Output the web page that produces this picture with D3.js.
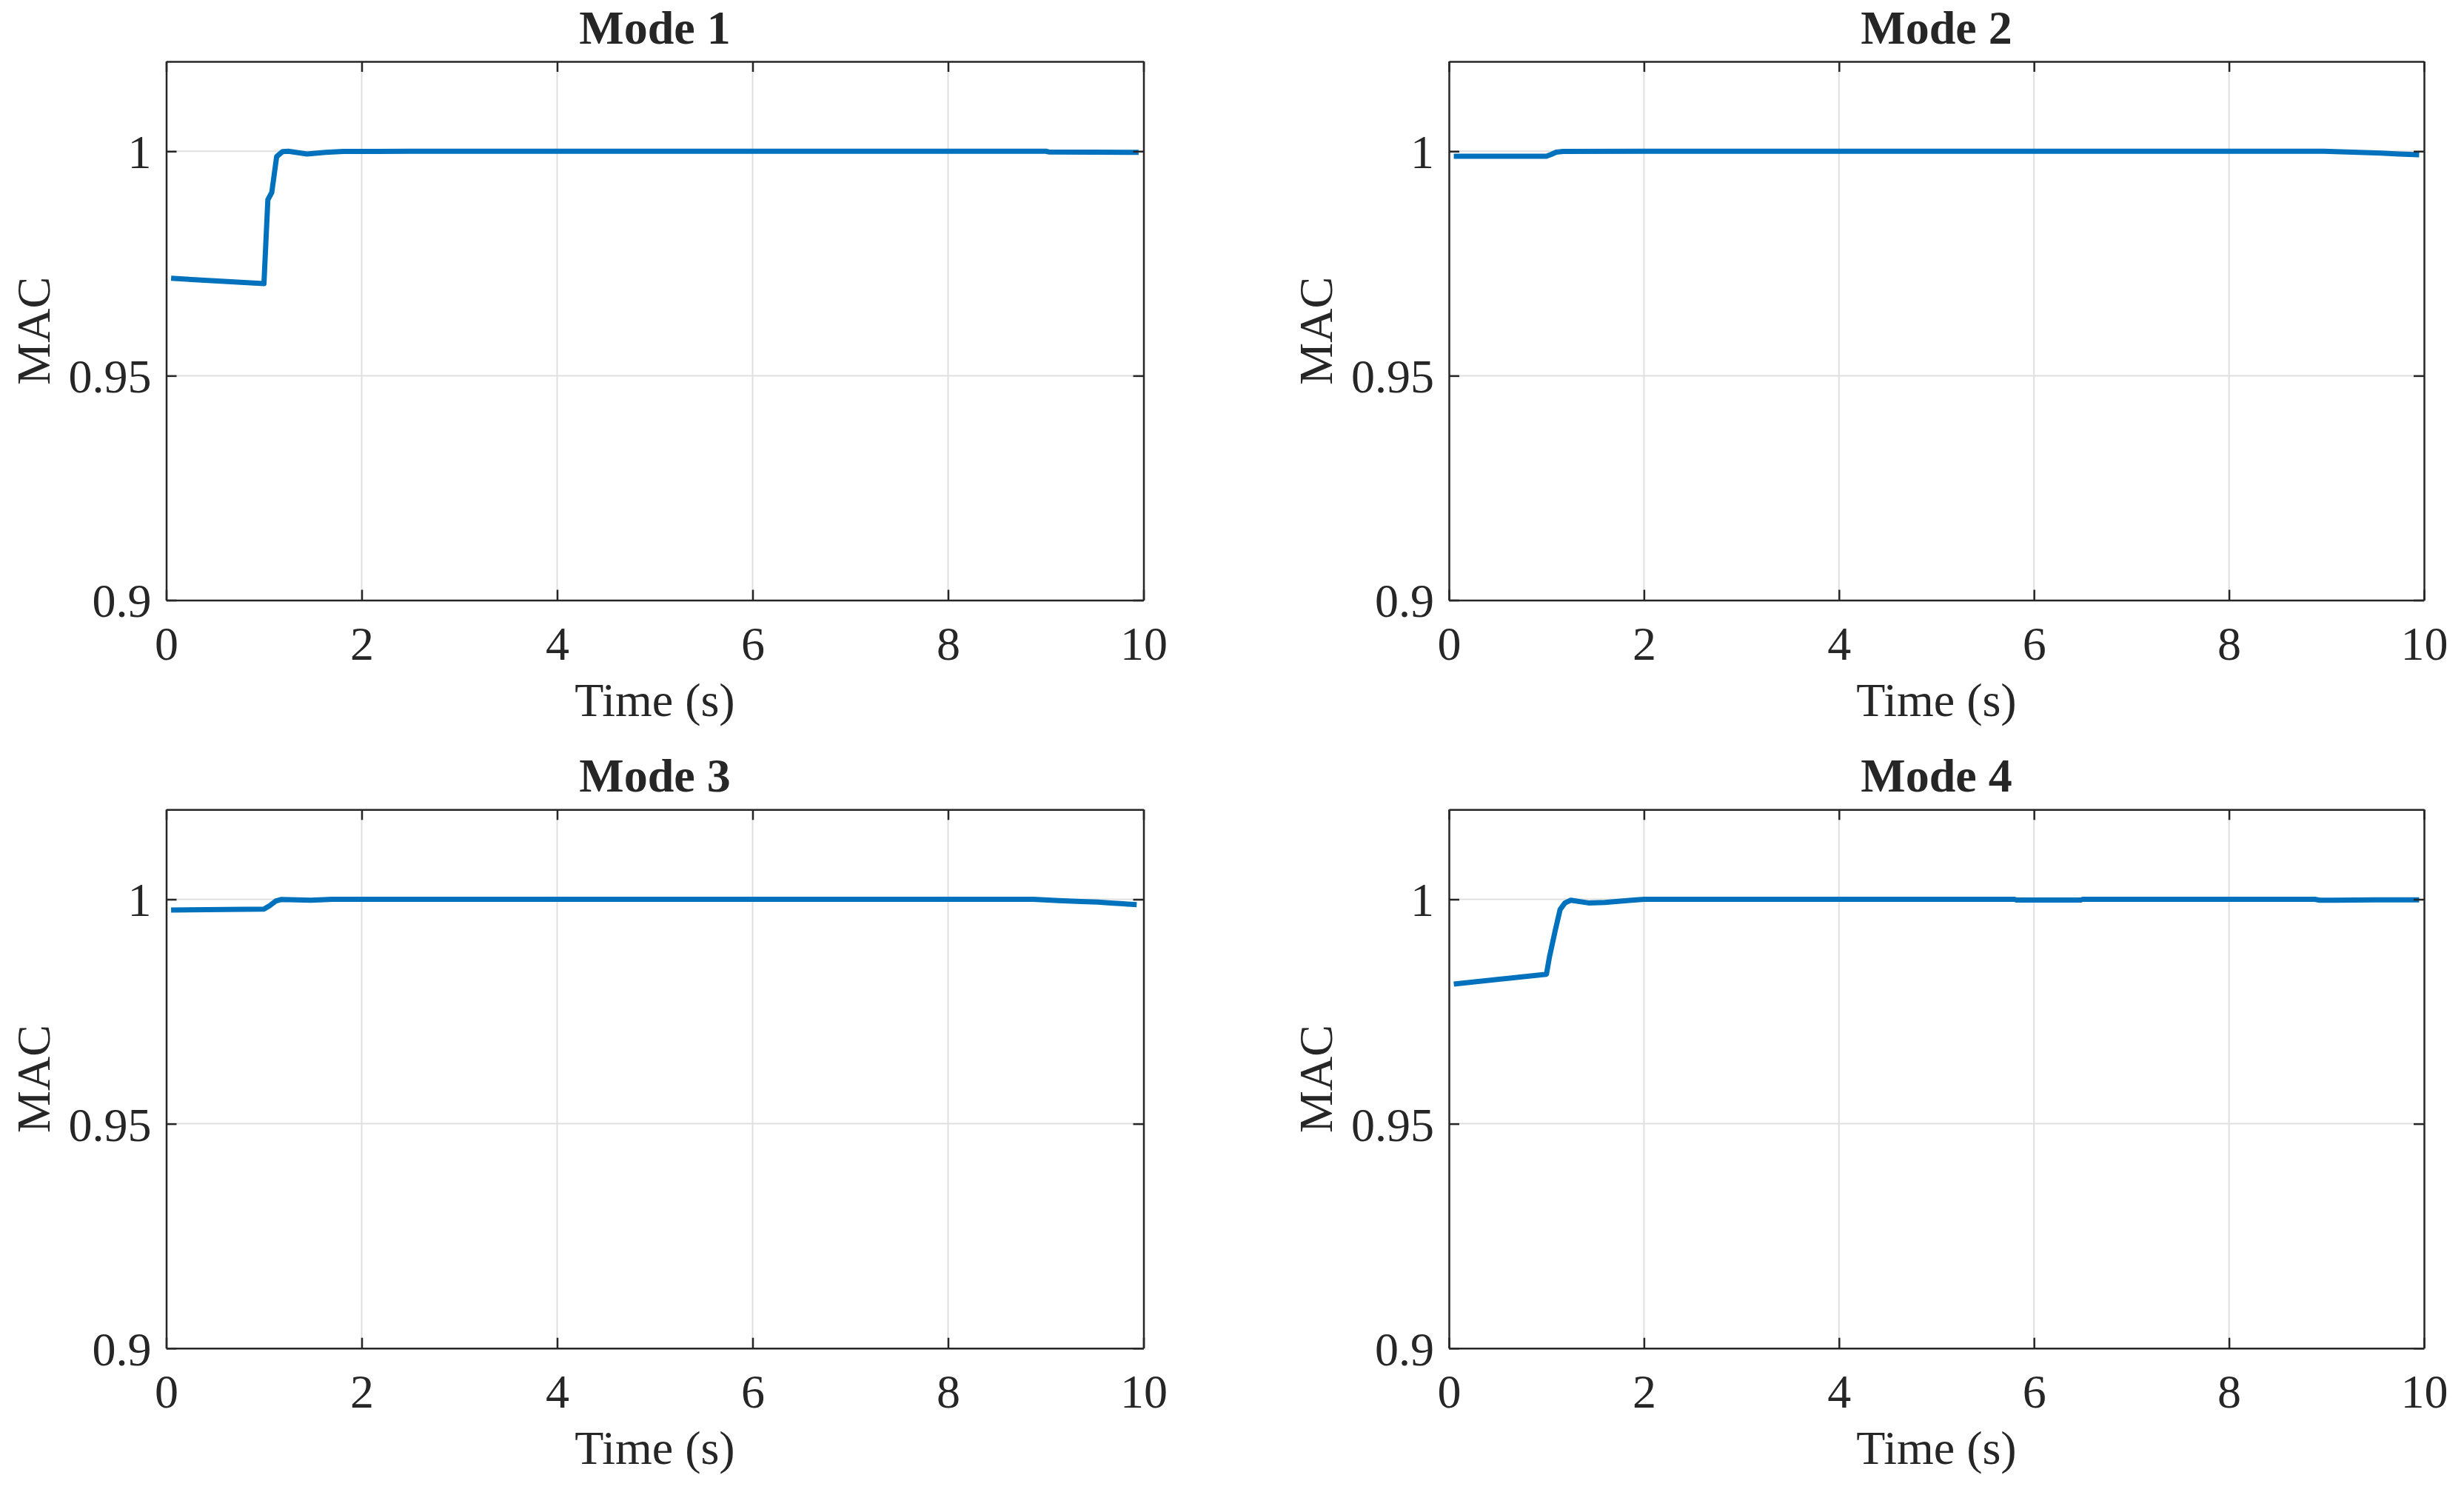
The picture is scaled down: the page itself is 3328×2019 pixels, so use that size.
<!DOCTYPE html>
<html>
<head>
<meta charset="utf-8">
<script src="https://cdn.jsdelivr.net/npm/d3@7"></script>
<style>
  body { margin: 0; background: #fff; }
  svg text { font-family: "Liberation Serif", "Times New Roman", serif; fill: #262626; }
</style>
</head>
<body>
<div id="plot"></div>
<script>
// values
const modeNames = ["Mode 1", "Mode 2", "Mode 3", "Mode 4"];

const mode1T   = [0.05, 1.0, 1.04, 1.08, 1.13, 1.19, 1.25, 1.44, 1.63, 1.81, 2.5, 5, 7.5, 9.0, 9.03, 9.5, 9.95];
const mode1MAC = [0.9717, 0.9705, 0.9892, 0.9908, 0.9988, 0.99992, 1.0, 0.99937, 0.99975, 0.99995, 1.0, 1.0, 1.0, 1.0, 0.99985, 0.9998, 0.99975];

const mode2T   = [0.05, 1.0, 1.05, 1.1, 1.17, 2, 5, 8.97, 9.33, 9.56, 9.74, 9.95];
const mode2MAC = [0.9989, 0.9989, 0.9993, 0.9998, 0.99995, 1.0, 1.0, 1.0, 0.99975, 0.9996, 0.99937, 0.9992];

const mode3T   = [0.05, 1.0, 1.06, 1.12, 1.18, 1.48, 1.7, 2.5, 5, 8.87, 9.13, 9.36, 9.53, 9.66, 9.79, 9.93];
const mode3MAC = [0.99761, 0.99782, 0.9986, 0.9996, 0.99998, 0.9998, 1.0, 1.0, 1.0, 1.0, 0.9997, 0.9995, 0.99937, 0.9992, 0.999, 0.9988];

const mode4T   = [0.05, 1.0, 1.03, 1.09, 1.14, 1.19, 1.25, 1.43, 1.6, 1.85, 2.0, 5.8, 5.82, 6.48, 6.5, 8.88, 8.93, 9.08, 9.5, 9.95];
const mode4MAC = [0.98111, 0.98331, 0.98705, 0.99304, 0.99772, 0.9992, 0.9998, 0.9992, 0.9993, 0.99975, 1.0, 1.0, 0.99985, 0.99985, 1.0, 1.0, 0.9998, 0.9998, 0.9999, 0.9999];

const xTicks = [0, 2, 4, 6, 8, 10];
const yTicks = [0.9, 0.95, 1];
const xDomain = [0, 10];
const yDomain = [0.9, 1.02];

const series = [
  { t: mode1T, v: mode1MAC },
  { t: mode2T, v: mode2MAC },
  { t: mode3T, v: mode3MAC },
  { t: mode4T, v: mode4MAC }
];

const width = 3328, height = 2019;
const fontSize = 64;
const axisColor = "#262626", gridColor = "#dfdfdf", lineColor = "#0072BD";

// panel boxes (left, right, top, bottom)
const cols = [[224.5, 1544.5], [1957, 3274]];
const rows = [[83, 810.5], [1093.3, 1820.7]];

const svg = d3.select("#plot")
  .append("svg")
    .attr("width", width)
    .attr("height", height);

series.forEach(function(s, i) {
  const c = cols[i % 2], r = rows[Math.floor(i / 2)];
  const w = c[1] - c[0], h = r[1] - r[0];

  const x = d3.scaleLinear().domain(xDomain).range([0, w]);
  const y = d3.scaleLinear().domain(yDomain).range([h, 0]);

  const g = svg.append("g")
    .attr("transform", "translate(" + c[0] + "," + r[0] + ")");

  // grid
  g.append("g")
    .selectAll("line.gx")
    .data(xTicks.filter(function(d) { return d > xDomain[0] && d < xDomain[1]; }))
    .enter().append("line")
      .attr("x1", function(d) { return x(d); })
      .attr("x2", function(d) { return x(d); })
      .attr("y1", 0).attr("y2", h)
      .attr("stroke", gridColor).attr("stroke-width", 2);
  g.append("g")
    .selectAll("line.gy")
    .data(yTicks.filter(function(d) { return d > yDomain[0]; }))
    .enter().append("line")
      .attr("x1", 0).attr("x2", w)
      .attr("y1", function(d) { return y(d); })
      .attr("y2", function(d) { return y(d); })
      .attr("stroke", gridColor).attr("stroke-width", 2);

  // data line
  const pts = s.t.map(function(t, k) { return [t, s.v[k]]; });
  g.append("path")
    .datum(pts)
    .attr("fill", "none")
    .attr("stroke", lineColor)
    .attr("stroke-width", 7)
    .attr("stroke-linejoin", "round")
    .attr("d", d3.line()
      .x(function(d) { return x(d[0]); })
      .y(function(d) { return y(d[1]); }));

  // axes, ticks pointing inward on all four sides
  const bottom = g.append("g")
    .attr("transform", "translate(0," + h + ")")
    .call(d3.axisBottom(x).tickValues(xTicks).tickSizeInner(-14).tickSizeOuter(0).tickPadding(36 + 14)
      .tickFormat(d3.format("d")));
  const top = g.append("g")
    .call(d3.axisTop(x).tickValues(xTicks).tickSizeInner(-14).tickSizeOuter(0).tickFormat(""));
  const left = g.append("g")
    .call(d3.axisLeft(y).tickValues(yTicks).tickSizeInner(-14).tickSizeOuter(0).tickPadding(20 + 14)
      .tickFormat(function(d) { return d3.format("")(d); }));
  const right = g.append("g")
    .attr("transform", "translate(" + w + ",0)")
    .call(d3.axisRight(y).tickValues(yTicks).tickSizeInner(-14).tickSizeOuter(0).tickFormat(""));

  [bottom, top, left, right].forEach(function(a) {
    a.select(".domain").attr("stroke", axisColor).attr("stroke-width", 2.5);
    a.selectAll(".tick line").attr("stroke", axisColor).attr("stroke-width", 2.5);
    a.selectAll(".tick text")
      .attr("fill", axisColor)
      .style("font-size", fontSize + "px")
      .style("font-family", "'Liberation Serif', 'Times New Roman', serif");
  });
  bottom.selectAll(".tick text").attr("dy", 0).attr("y", 80);
  left.selectAll(".tick text").attr("dy", "0.35em").attr("x", -20);

  // title
  g.append("text")
    .attr("x", w / 2)
    .attr("y", -24)
    .attr("text-anchor", "middle")
    .style("font-size", fontSize + "px")
    .style("font-weight", "bold")
    .text(modeNames[i]);

  // axis labels
  g.append("text")
    .attr("x", w / 2)
    .attr("y", h + 156.5)
    .attr("text-anchor", "middle")
    .style("font-size", fontSize + "px")
    .text("Time (s)");

  g.append("text")
    .attr("transform", "translate(-158," + (h / 2) + ") rotate(-90)")
    .attr("text-anchor", "middle")
    .style("font-size", fontSize + "px")
    .text("MAC");
});
</script>
</body>
</html>
